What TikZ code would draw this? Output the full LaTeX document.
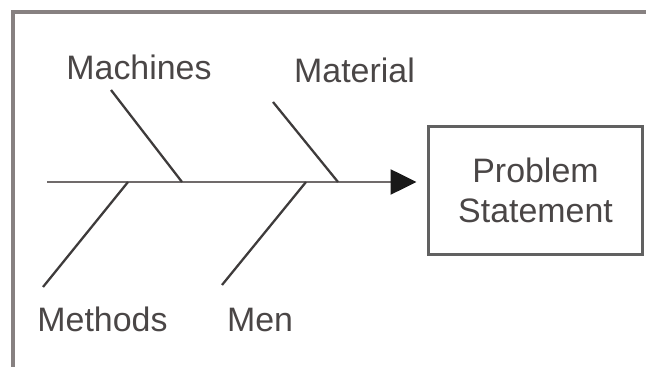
\documentclass[tikz,border=0pt]{standalone}
\usepackage{fontspec}
\setmainfont{Liberation Sans}
\usetikzlibrary{arrows.meta}
\definecolor{framegray}{HTML}{878181}
\definecolor{bonegray}{HTML}{3E3B3B}
\definecolor{spinegray}{HTML}{706B6B}
\definecolor{textgray}{HTML}{4A4646}

\begin{document}
\begin{tikzpicture}[x=0.02cm,y=-0.02cm,
  lbl/.style={font=\fontsize{19.3}{22.8}\selectfont,text=textgray,inner sep=0pt,anchor=base},
  bone/.style={bonegray,line width=1.3pt},
  spine/.style={spinegray,line width=1.4pt,-{Triangle[length=0.52cm,width=0.5cm,color=black!90]}}]
  \useasboundingbox (0,0) rectangle (646,367);
  % outer frame, only top and left edges show
  \draw[framegray,line width=2.2pt] (646,12) -| (13,367);
  % effect box
  \node[draw=black!62,line width=1.7pt,minimum width=4.3cm,minimum height=2.58cm,
    align=center,font=\fontsize{19.3}{22.8}\selectfont,text=textgray] (problem) at (535.5,190.5) {Problem\\Statement};
  % spine
  \coordinate (tail) at (47,182);
  \draw[spine,shorten >=0.2cm] (tail) -- (tail -| problem.west);
  % bones: top end / joint on spine
  \coordinate (machtop) at (111,90);   \coordinate (machj) at (182,182);
  \coordinate (mattop) at (273,102);   \coordinate (matj) at (338,182);
  \coordinate (methbot) at (43,287);   \coordinate (methj) at (128,182);
  \coordinate (menbot) at (222,285);   \coordinate (menj) at (306,182);
  \draw[bone] (machtop) -- (machj);
  \draw[bone] (mattop) -- (matj);
  \draw[bone] (methj) -- (methbot);
  \draw[bone] (menj) -- (menbot);
  % cause labels
  \node[lbl] (machines) at (139,80) {Machines};
  \node[lbl] (material) at (354.5,83) {Material};
  \node[lbl] (methods) at (102.5,332) {Methods};
  \node[lbl] (men) at (260,332) {Men};
\end{tikzpicture}
\end{document}
